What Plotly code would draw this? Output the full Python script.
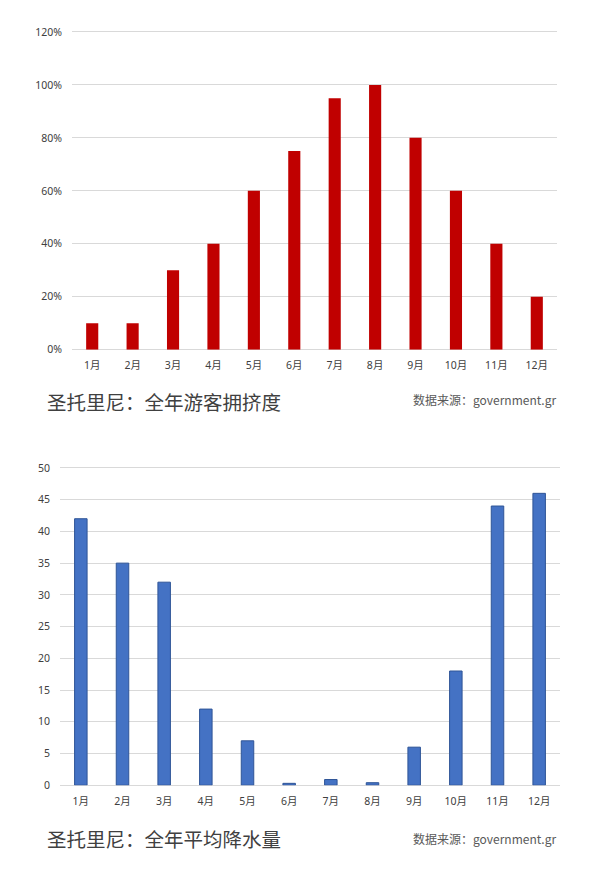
import plotly.graph_objects as go
from plotly.subplots import make_subplots

# dados
months = ["1月", "2月", "3月", "4月", "5月", "6月", "7月", "8月", "9月", "10月", "11月", "12月"]
crowd = [10, 10, 30, 40, 60, 75, 95, 100, 80, 60, 40, 20]
crowd_ticks = [0, 20, 40, 60, 80, 100, 120]
crowd_labels = ["0%", "20%", "40%", "60%", "80%", "100%", "120%"]
rain = [42, 35, 32, 12, 7, 0.3, 0.9, 0.4, 6, 18, 44, 46]
rain_ticks = [0, 5, 10, 15, 20, 25, 30, 35, 40, 45, 50]

title_top = "圣托里尼：全年游客拥挤度"
title_bottom = "圣托里尼：全年平均降水量"
source = "数据来源：government.gr"

W, H = 600, 873
font = "Noto Sans, Noto Sans CJK SC, sans-serif"
cjk = "Noto Sans CJK SC, sans-serif"

# posições em pixels da figura (já descontada a margem da página)
def px_x(x):
    return (x - 8) / W

def fy(d):
    return 1 - d / H

fig = make_subplots(rows=2, cols=1)

fig.add_trace(go.Bar(x=months, y=crowd, marker_color="#C00000",
                     marker_line_width=0, width=0.3), row=1, col=1)
fig.add_trace(go.Bar(x=months, y=rain, marker_color="#4472C4",
                     marker_line_color="#2F5597", marker_line_width=1,
                     width=0.3), row=2, col=1)

axis_common = dict(tickfont=dict(family=font, size=10.5, color="#404040"),
                   showline=False)

fig.update_xaxes(showgrid=False, ticks="", zeroline=False,
                 ticklabelstandoff=8, **axis_common)
fig.update_yaxes(showgrid=True, gridcolor="#D9D9D9", gridwidth=1,
                 zeroline=True, zerolinecolor="#D9D9D9", zerolinewidth=1,
                 ticks="", ticklabelstandoff=9, **axis_common)

fig.update_xaxes(row=1, col=1, domain=[px_x(72), px_x(557)])
fig.update_xaxes(row=2, col=1, domain=[px_x(60), px_x(560)])

# topo um pouco acima da última linha de grade para ela aparecer
fig.update_yaxes(row=1, col=1, domain=[fy(342.6), fy(17.2)], range=[0, 121.5],
                 tickvals=crowd_ticks, ticktext=crowd_labels)
fig.update_yaxes(row=2, col=1, domain=[fy(783.2), fy(458.4)], range=[0, 50.6],
                 tickvals=rain_ticks)

# títulos e fonte
for t, ty, sy in [(title_top, 394.7, 392.7), (title_bottom, 836.9, 837)]:
    fig.add_annotation(text=t, x=px_x(45), y=fy(ty), xref="paper", yref="paper",
                       xanchor="left", yanchor="middle", showarrow=False,
                       font=dict(family=cjk, size=19.5, color="#404040"))
    fig.add_annotation(text=source, x=px_x(558), y=fy(sy), xref="paper", yref="paper",
                       xanchor="right", yanchor="middle", showarrow=False,
                       font=dict(family=cjk, size=12, color="#595959"))

fig.update_layout(width=W, height=H, margin=dict(l=0, r=0, t=0, b=0),
                  plot_bgcolor="white", paper_bgcolor="white",
                  showlegend=False, font=dict(family=font))

fig.write_html("out.html")
